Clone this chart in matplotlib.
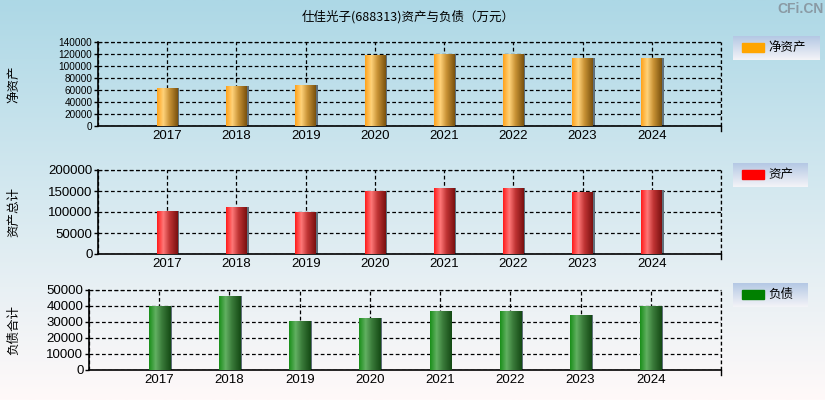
import numpy as np
import matplotlib
matplotlib.use('Agg')
import matplotlib.pyplot as plt
from matplotlib.colors import LinearSegmentedColormap
from matplotlib.patches import Rectangle

plt.rcParams['font.family'] = ['Liberation Sans', 'Noto Sans CJK SC', 'DejaVu Sans']

years = [2017, 2018, 2019, 2020, 2021, 2022, 2023, 2024]
net_assets = [63900, 67200, 68900, 117800, 120600, 120600, 113900, 113900]
total_assets = [102800, 112400, 100400, 150600, 157800, 157800, 148200, 153000]
liabilities = [39800, 46500, 30800, 32700, 37100, 37100, 34600, 39800]

TITLE = '仕佳光子(688313)资产与负债（万元）'

panels = [
    # values, ylabel, legend, colour, gradient stops, yticks, axes box (px), tick font, legend box (px)
    (net_assets, '净资产', '净资产', '#FFA500',
     ['#FFA21A', '#FFD27A', '#C89235', '#7A520E'],
     np.arange(0, 140001, 20000), [98, 42, 721, 126], 7.2, [733, 36, 820, 60]),
    (total_assets, '资产总计', '资产', '#FF0000',
     ['#FF1A1A', '#FF7878', '#C03434', '#7A1010'],
     np.arange(0, 200001, 50000), [98, 170, 721, 254], 9.5, [733, 163, 808, 187]),
    (liabilities, '负债合计', '负债', '#008000',
     ['#1A8F1A', '#62B062', '#3A7A3A', '#144A14'],
     np.arange(0, 50001, 10000), [89, 290, 721, 370], 9.5, [733, 283, 808, 307]),
]

W, H = 825, 400
fig = plt.figure(figsize=(W / 100, H / 100), dpi=100)

# background gradient
bg = fig.add_axes([0, 0, 1, 1], zorder=-10)
grad = np.linspace(0, 1, 256).reshape(-1, 1)
bg_cmap = LinearSegmentedColormap.from_list('bg', ['#ADD8E6', '#D6E9F0', '#FFF9F9'])
bg.imshow(grad, aspect='auto', cmap=bg_cmap, extent=[0, 1, 0, 1])
bg.set_axis_off()


def fr(box):
    x0, y0, x1, y1 = box
    return [x0 / W, 1 - y1 / H, (x1 - x0) / W, (y1 - y0) / H]


hgrad = np.linspace(0, 1, 64).reshape(1, -1)

for vals, ylab, leg, col, stops, yt, box, tfs, lbox in panels:
    ax = fig.add_axes(fr(box))
    ax.patch.set_alpha(0)
    cmap = LinearSegmentedColormap.from_list('b', list(zip([0, 0.3, 0.6, 1], stops)))
    # shadow on the right side of each bar
    ax.bar([y + 0.025 for y in years], vals, width=0.3, color='#5F6F7A', zorder=2)
    bars = ax.bar(years, vals, width=0.3, color=col, zorder=3)
    for b in bars:
        x0 = b.get_x()
        im = ax.imshow(hgrad, aspect='auto', cmap=cmap, zorder=4,
                       extent=[x0, x0 + b.get_width(), 0, b.get_height()])
        im.set_clip_path(b)
    ax.set_xlim(2016, 2025)
    ax.set_ylim(0, yt[-1])
    ax.set_yticks(yt)
    ax.set_yticklabels([str(v) for v in yt], fontsize=tfs)
    ax.set_xticks(list(range(2016, 2026)))
    ax.set_xticklabels([''] + [str(y) for y in years] + [''], fontsize=9.5)
    ax.tick_params(axis='x', length=0, pad=3)
    ax.tick_params(axis='y', length=3, width=1, pad=1)
    ax.grid(True, color='black', linestyle=(0, (3, 2)), linewidth=0.9, zorder=1)
    ax.set_axisbelow(True)
    for s in ['top', 'right']:
        ax.spines[s].set_visible(False)
    for s in ['left', 'bottom']:
        ax.spines[s].set_linewidth(1.2)
    ax.axvline(2025, color='black', linestyle=(0, (3, 2)), linewidth=0.9, clip_on=False)
    ax.axhline(yt[-1], color='black', linestyle=(0, (3, 2)), linewidth=0.9, clip_on=False)
    ax.plot([2025, 2025], [-0.06, 0], transform=ax.get_xaxis_transform(),
            color='black', lw=1, clip_on=False)
    cy = 1 - (box[1] + box[3]) / 2 / H
    fig.text(14 / W, cy, ylab, rotation=90, ha='center', va='center', fontsize=9,
             family=['Noto Sans CJK SC', 'DejaVu Sans'])

    # legend
    lax = fig.add_axes(fr(lbox))
    lcmap = LinearSegmentedColormap.from_list('l', ['#B4C8E4', '#F4F4F8'])
    lax.imshow(grad, aspect='auto', cmap=lcmap, extent=[0, 1, 0, 1])
    lax.set_xlim(0, 1)
    lax.set_ylim(0, 1)
    lax.set_axis_off()
    lw = lbox[2] - lbox[0]
    lh = lbox[3] - lbox[1]
    lax.add_patch(Rectangle((9 / lw, (lh - 16) / lh), 22 / lw, 9 / lh, color=col))
    lax.text(35 / lw, (lh - 11.5) / lh, leg, ha='left', va='center', fontsize=9,
             family=['Noto Sans CJK SC', 'DejaVu Sans'])

fig.text(408 / W, 1 - 17 / H, TITLE, ha='center', va='center', fontsize=9,
         family=['Noto Sans CJK SC', 'DejaVu Sans'])
fig.text(800 / W, 1 - 9 / H, 'CFi.CN', ha='center', va='center', fontsize=10,
         color='#8A9AA4', fontweight='bold')

fig.savefig('out.png', dpi=100)
